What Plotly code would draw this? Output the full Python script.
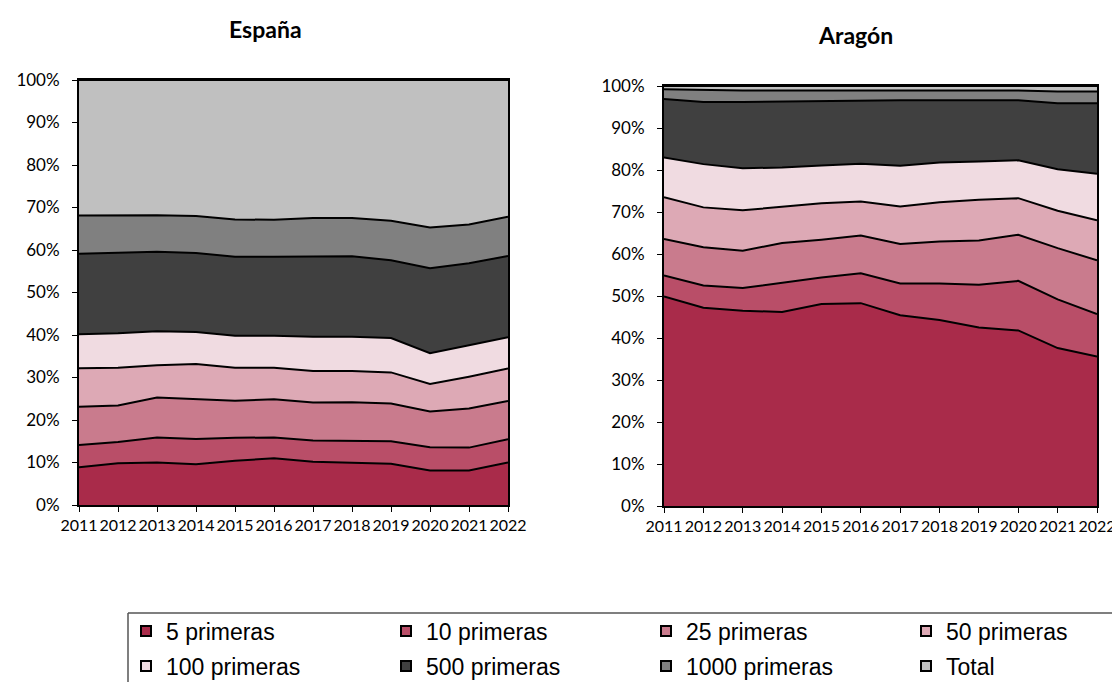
import plotly.graph_objects as go

years = [2011, 2012, 2013, 2014, 2015, 2016, 2017, 2018, 2019, 2020, 2021, 2022]
year_labels = [str(y) for y in years]
pct_ticks = [0, 10, 20, 30, 40, 50, 60, 70, 80, 90, 100]
pct_labels = ["0%", "10%", "20%", "30%", "40%", "50%", "60%", "70%", "80%", "90%", "100%"]

series_names = ["5 primeras", "10 primeras", "25 primeras", "50 primeras",
                "100 primeras", "500 primeras", "1000 primeras", "Total"]
colors = ["#A92B4A", "#B94E68", "#C97B8D", "#DDA9B5",
          "#F0DBE1", "#404040", "#808080", "#C0C0C0"]

# España: share of each band (percentage points), stacked bottom to top
es_5 = [8.9, 9.8, 10.0, 9.6, 10.4, 11.0, 10.2, 10.0, 9.7, 8.1, 8.1, 10.0]
es_10 = [5.2, 5.0, 5.9, 5.9, 5.4, 4.9, 5.0, 5.1, 5.3, 5.5, 5.4, 5.5]
es_25 = [9.0, 8.6, 9.4, 9.4, 8.7, 9.0, 8.9, 9.1, 8.9, 8.4, 9.2, 9.0]
es_50 = [9.1, 8.9, 7.6, 8.3, 7.8, 7.4, 7.4, 7.3, 7.3, 6.5, 7.5, 7.6]
es_100 = [8.0, 8.1, 8.0, 7.5, 7.5, 7.5, 8.1, 8.1, 8.1, 7.2, 7.4, 7.4]
es_500 = [18.9, 19.0, 18.7, 18.6, 18.6, 18.6, 18.9, 18.9, 18.3, 20.0, 19.3, 19.1]
es_1000 = [9.0, 8.8, 8.6, 8.7, 8.8, 8.7, 9.0, 9.0, 9.3, 9.6, 9.1, 9.2]
es_total = [31.9, 31.8, 31.8, 32.0, 32.8, 32.9, 32.5, 32.5, 33.1, 34.7, 34.0, 32.2]

# Aragón
ar_5 = [49.9, 47.2, 46.5, 46.2, 48.1, 48.3, 45.4, 44.3, 42.5, 41.8, 37.6, 35.6]
ar_10 = [5.0, 5.3, 5.4, 7.0, 6.3, 7.1, 7.6, 8.7, 10.2, 11.8, 11.6, 10.1]
ar_25 = [8.7, 9.1, 8.9, 9.4, 9.0, 9.0, 9.4, 10.0, 10.5, 11.0, 12.2, 12.8]
ar_50 = [9.9, 9.5, 9.6, 8.7, 8.7, 8.1, 8.9, 9.3, 9.7, 8.7, 8.9, 9.5]
ar_100 = [9.5, 10.3, 10.0, 9.3, 9.0, 9.0, 9.7, 9.5, 9.1, 9.0, 9.9, 11.1]
ar_500 = [13.9, 14.8, 15.8, 15.7, 15.4, 15.1, 15.6, 14.8, 14.6, 14.3, 15.7, 16.8]
ar_1000 = [2.3, 2.8, 2.7, 2.6, 2.4, 2.3, 2.3, 2.3, 2.3, 2.3, 2.8, 2.8]
ar_total = [0.8, 1.0, 1.1, 1.1, 1.1, 1.1, 1.1, 1.1, 1.1, 1.1, 1.3, 1.3]

espana = [es_5, es_10, es_25, es_50, es_100, es_500, es_1000, es_total]
aragon = [ar_5, ar_10, ar_25, ar_50, ar_100, ar_500, ar_1000, ar_total]

# the page body has an 8px margin; positions below are window pixels
OFF = 8
W, H = 1120 - OFF, 682 - OFF
XTICK_FONT = dict(family="Lato, Open Sans, sans-serif", size=16, color="#000000")
YTICK_FONT = dict(family="Lato, Open Sans, sans-serif", size=17, color="#000000")
LEG_FONT = dict(family="Liberation Sans, Arial, sans-serif", size=23, color="#000000")
TITLE_FONT = dict(family="Lato, Open Sans, sans-serif", size=23, color="#000000")


def px_x(p):
    return (p - OFF) / W


def px_y(p):
    return 1 - (p - OFF) / H


fig = go.Figure()

for vals, name, col in zip(espana, series_names, colors):
    fig.add_trace(go.Scatter(
        x=years, y=vals, name=name, stackgroup="es", mode="lines",
        line=dict(color="#000000", width=2), fillcolor=col,
        showlegend=False, xaxis="x", yaxis="y", hoverinfo="skip"))

for vals, name, col in zip(aragon, series_names, colors):
    fig.add_trace(go.Scatter(
        x=years, y=vals, name=name, stackgroup="ar", mode="lines",
        line=dict(color="#000000", width=2), fillcolor=col,
        showlegend=False, xaxis="x2", yaxis="y2", hoverinfo="skip"))

# legend: one legend per entry, laid out in a 4 x 2 grid
col_x = [126, 386, 646, 906]
row_y = [631, 666]
legend_layouts = {}
for i, (name, col) in enumerate(zip(series_names, colors)):
    key = "legend" if i == 0 else "legend%d" % (i + 1)
    fig.add_trace(go.Scatter(
        x=[None], y=[None], name=name, mode="markers",
        marker=dict(symbol="square", size=10, color=col,
                    line=dict(color="#000000", width=2)),
        legend=key, xaxis="x", yaxis="y", showlegend=True))
    legend_layouts[key] = dict(
        x=px_x(col_x[i % 4]), y=px_y(row_y[i // 4]), xanchor="left",
        yanchor="middle", orientation="h", font=LEG_FONT,
        bgcolor="rgba(0,0,0,0)", borderwidth=0, itemclick=False,
        itemdoubleclick=False)


def xaxis_cfg(x0, x1, anchor):
    return dict(
        domain=[px_x(x0), px_x(x1)], range=[2011, 2022], anchor=anchor,
        tickmode="array", tickvals=years, ticktext=year_labels, tickangle=0,
        ticks="outside", ticklen=5, tickcolor="#000000", tickwidth=1,
        showline=True, linecolor="#000000", linewidth=2, mirror=True,
        showgrid=False, zeroline=False, tickfont=XTICK_FONT, fixedrange=True)


def yaxis_cfg(y_top, y_bottom, anchor):
    return dict(
        domain=[px_y(y_bottom), px_y(y_top)], range=[0, 100], anchor=anchor,
        tickmode="array", tickvals=pct_ticks, ticktext=pct_labels,
        ticks="outside", ticklen=5, tickcolor="#000000", tickwidth=1,
        ticklabelstandoff=9, showline=True, linecolor="#000000", linewidth=2,
        mirror=True, showgrid=False, zeroline=False, tickfont=YTICK_FONT,
        fixedrange=True)


fig.update_layout(
    width=W, height=H,
    margin=dict(l=0, r=0, t=0, b=0, autoexpand=False),
    paper_bgcolor="#FFFFFF", plot_bgcolor="#FFFFFF",
    xaxis=xaxis_cfg(79, 508, "y"),
    yaxis=yaxis_cfg(80, 505, "x"),
    xaxis2=xaxis_cfg(664, 1097, "y2"),
    yaxis2=yaxis_cfg(86, 506, "x2"),
    annotations=[
        dict(text="<b>España</b>", x=px_x(265), y=px_y(29), xref="paper",
             yref="paper", showarrow=False, xanchor="center",
             yanchor="middle", font=TITLE_FONT),
        dict(text="<b>Aragón</b>", x=px_x(855), y=px_y(35), xref="paper",
             yref="paper", showarrow=False, xanchor="center",
             yanchor="middle", font=TITLE_FONT),
    ],
    shapes=[
        dict(type="line", xref="paper", yref="paper",
             x0=px_x(128), x1=px_x(1125), y0=px_y(613), y1=px_y(613),
             line=dict(color="#555555", width=1.5)),
        dict(type="line", xref="paper", yref="paper",
             x0=px_x(128), x1=px_x(128), y0=px_y(613), y1=px_y(690),
             line=dict(color="#555555", width=1.5)),
    ],
    **legend_layouts,
)

fig.write_html("out.html")
